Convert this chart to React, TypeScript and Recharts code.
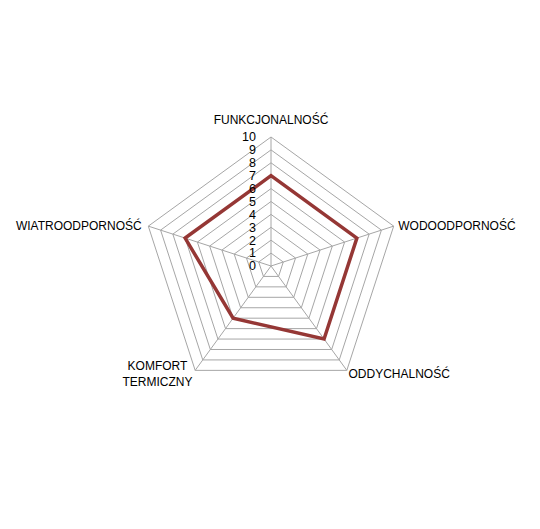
import { PolarAngleAxis, PolarGrid, PolarRadiusAxis, Radar, RadarChart } from "recharts";

const CATEGORIES = [
  "FUNKCJONALNOŚĆ",
  "WODOODPORNOŚĆ",
  "ODDYCHALNOŚĆ",
  "KOMFORT TERMICZNY",
  "WIATROODPORNOŚĆ"
];
const SCORES = [7, 7, 7, 5, 7];
const RADIUS_TICKS = [0, 1, 2, 3, 4, 5, 6, 7, 8, 9, 10];

const LINE_COLOR = "#953735";
const GRID_COLOR = "#a6a6a6";
const FONT = "'Liberation Sans', Arial, sans-serif";

const data = CATEGORIES.map((name, i) => ({ name, score: SCORES[i] }));

function AngleTick(props: any) {
  const { x, y, payload, textAnchor } = props;
  const label: string = payload.value;
  if (label === "KOMFORT TERMICZNY") {
    return (
      <text x={x - 33} y={y} textAnchor="middle" fontSize={12} fontFamily={FONT} fill="#000">
        <tspan x={x - 33} dy={-7}>KOMFORT</tspan>
        <tspan x={x - 33} dy={16}>TERMICZNY</tspan>
      </text>
    );
  }
  let dx = 0;
  let dy = 6;
  if (textAnchor === "middle") dy = -5;
  if (textAnchor === "start") dx = -3;
  if (textAnchor === "end") dx = 1;
  if (label === "ODDYCHALNOŚĆ") {
    dy = 1;
    dx = -3;
  }
  return (
    <text x={x + dx} y={y + dy} textAnchor={textAnchor} fontSize={12} fontFamily={FONT} fill="#000">
      {label}
    </text>
  );
}

function RadiusTick(props: any) {
  const { x, y, payload } = props;
  return (
    <text x={x - 15} y={y} dy="0.35em" textAnchor="end" fontSize={12.5} fontFamily={FONT} fill="#000">
      {payload.value}
    </text>
  );
}

export default function App() {
  return (
    <div style={{ position: "absolute", left: 0, top: 0, width: 540, height: 529, background: "#fff" }}>
      <RadarChart width={540} height={529} data={data} cx={271} cy={266} outerRadius={129}>
        <PolarGrid gridType="polygon" stroke={GRID_COLOR} strokeWidth={1} />
        <PolarAngleAxis dataKey="name" tick={AngleTick} tickLine={false} />
        <PolarRadiusAxis
          angle={90}
          domain={[0, 10]}
          ticks={RADIUS_TICKS as any}
          tickCount={11}
          tick={RadiusTick}
          axisLine={false}
          tickLine={false}
        />
        <Radar
          dataKey="score"
          stroke={LINE_COLOR}
          strokeWidth={3.5}
          fill="none"
          fillOpacity={0}
          dot={false}
          isAnimationActive={false}
        />
      </RadarChart>
    </div>
  );
}
